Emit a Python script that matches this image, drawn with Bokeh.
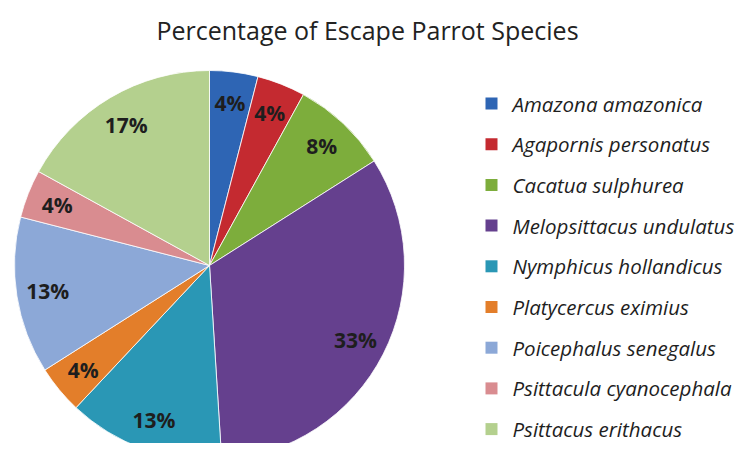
import math
from bokeh.plotting import figure
from bokeh.models import ColumnDataSource, Range1d
from bokeh.core.properties import value
from bokeh.embed import file_html
from bokeh.resources import INLINE

title_text = "Percentage of Escape Parrot Species"
species = ["Amazona amazonica", "Agapornis personatus", "Cacatua sulphurea",
           "Melopsittacus undulatus", "Nymphicus hollandicus", "Platycercus eximius",
           "Poicephalus senegalus", "Psittacula cyanocephala", "Psittacus erithacus"]
percentages = [4, 4, 8, 33, 13, 4, 13, 4, 17]
colors = ["#2E65B4", "#C42A30", "#7DAD3C", "#65408E", "#2A97B5",
          "#E37E2A", "#8CA8D7", "#D98C90", "#B4D08E"]

W, H = 739, 443
REF_H = 459
def Y(ref_y):
    return REF_H - ref_y

cx, cy, r = 209, Y(265), 195

total = sum(percentages)
starts, ends, lx, ly, labels = [], [], [], [], []
cum = 0
for v in percentages:
    a0 = math.pi / 2 - 2 * math.pi * cum / total
    a1 = math.pi / 2 - 2 * math.pi * (cum + v) / total
    starts.append(a0)
    ends.append(a1)
    mid = (a0 + a1) / 2
    lx.append(cx + 0.84 * r * math.cos(mid))
    ly.append(cy + 0.84 * r * math.sin(mid))
    labels.append(f"{v}%")
    cum += v

p = figure(width=W, height=H, output_backend="svg", toolbar_location=None,
           x_range=Range1d(0, W), y_range=Range1d(Y(H), Y(0)),
           min_border=0)
p.axis.visible = False
p.grid.visible = False
p.outline_line_color = None
p.background_fill_color = "white"
p.border_fill_color = "white"

src = ColumnDataSource(dict(start=starts, end=ends, color=colors))
p.wedge(x=cx, y=cy, radius=r, start_angle="start", end_angle="end",
        direction="clock", fill_color="color", line_color="white",
        line_width=0.8, source=src)

p.text(x=lx, y=ly, text=labels, text_font=value("Open Sans"), text_font_style="bold",
       text_font_size="21px", text_color="#1E1E1E", text_align="center",
       text_baseline="middle")

# title
p.text(x=[367], y=[Y(29)], text=[title_text], text_font=value("Open Sans"),
       text_font_size="25px", text_color="#222222", text_align="center",
       text_baseline="middle")

# legend
leg_y = [Y(103 + i * 40.7) for i in range(len(species))]
p.scatter(x=[491] * len(species), y=leg_y, marker="square", size=12,
          fill_color=colors, line_color=None)
p.text(x=[512] * len(species), y=leg_y, text=species, text_font=value("Open Sans"),
       text_font_style="italic", text_font_size="20.5px", text_color="#1E1E1E",
       text_align="left", text_baseline="middle")

open("out.html", "w").write(file_html(p, INLINE))
